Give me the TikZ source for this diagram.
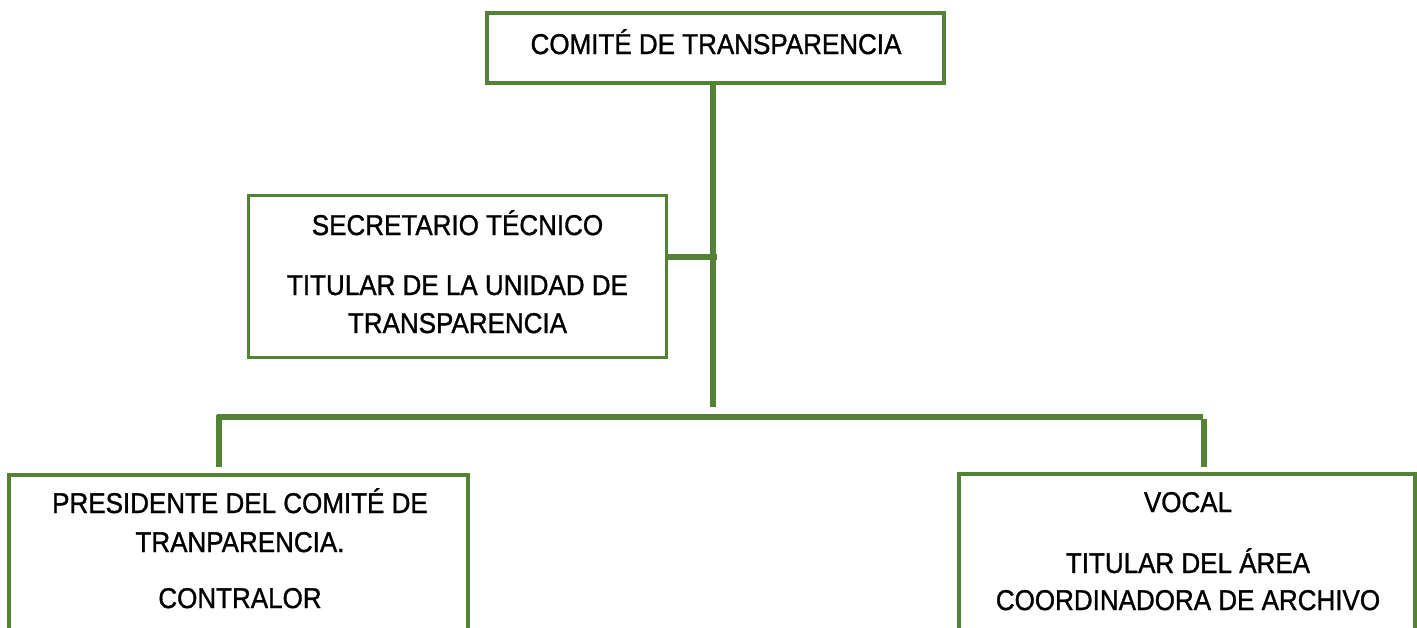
\documentclass[tikz,border=0pt]{standalone}
\usepackage{fontspec}
\setmainfont{Liberation Sans}
\newfontfamily\lblfont{Liberation Sans}[BoldFont={Liberation Sans}, BoldFeatures={FakeBold=1.2}]
\definecolor{boxgreen}{HTML}{548235}
\tikzset{
  orgbox/.style={draw=boxgreen, line width=3.8pt, rectangle, inner sep=0pt, fill=white},
  lbl/.style={anchor=base, inner sep=0pt, font=\lblfont\bfseries\fontsize{26}{30}\selectfont, text=black},
  link/.style={draw=boxgreen, line width=5.5pt}
}
\newcommand\tall[1]{\scalebox{1}[1.1]{#1}}
\begin{document}
\begin{tikzpicture}[x=1pt,y=-1pt]
\useasboundingbox (0,0) rectangle (1417,627);
\clip (0,0) rectangle (1417,627);
% boxes
\node[orgbox, minimum width=457pt, minimum height=70pt] (top) at (715.5,48) {};
\node[orgbox, minimum width=418pt, minimum height=162pt] (sec) at (457.5,276.5) {};
\node[orgbox, minimum width=459pt, minimum height=200pt] (pres) at (238.5,575) {};
\node[orgbox, minimum width=456pt, minimum height=200pt] (vocal) at (1187,574) {};
% coordinates
\coordinate (cbot) at (713,407);
\coordinate (secj) at (717,257);
\coordinate (hl) at (220,417);
\coordinate (hr) at (1200,417);
\coordinate (vl) at (219,467);
\coordinate (vr) at (1204,467);
% connectors
\draw[link] (top.south -| cbot) -- (cbot);
\draw[link] (sec.east |- secj) -- (secj);
\draw[link, line cap=rect] (hl) -- (hr);
\draw[link] (hl) ++(-1,-2) -- (vl);
\draw[link] (1204,419) -- (vr);
% texts
\node[lbl] (t1) at (716,54) {\tall{COMITÉ DE TRANSPARENCIA}};
\node[lbl] (s1) at (457.5,235) {\tall{SECRETARIO TÉCNICO}};
\node[lbl] (s2) at (457.5,295) {\tall{TITULAR DE LA UNIDAD DE}};
\node[lbl] (s3) at (457.5,333) {\tall{TRANSPARENCIA}};
\node[lbl] (p1) at (240,513) {\tall{PRESIDENTE DEL COMITÉ DE}};
\node[lbl] (p2) at (240,552) {\tall{TRANPARENCIA.}};
\node[lbl] (p3) at (240,608) {\tall{CONTRALOR}};
\node[lbl] (v1) at (1188,512) {\tall{VOCAL}};
\node[lbl] (v2) at (1188,573) {\tall{TITULAR DEL ÁREA}};
\node[lbl] (v3) at (1188,610) {\tall{COORDINADORA DE ARCHIVO}};
\end{tikzpicture}
\end{document}
